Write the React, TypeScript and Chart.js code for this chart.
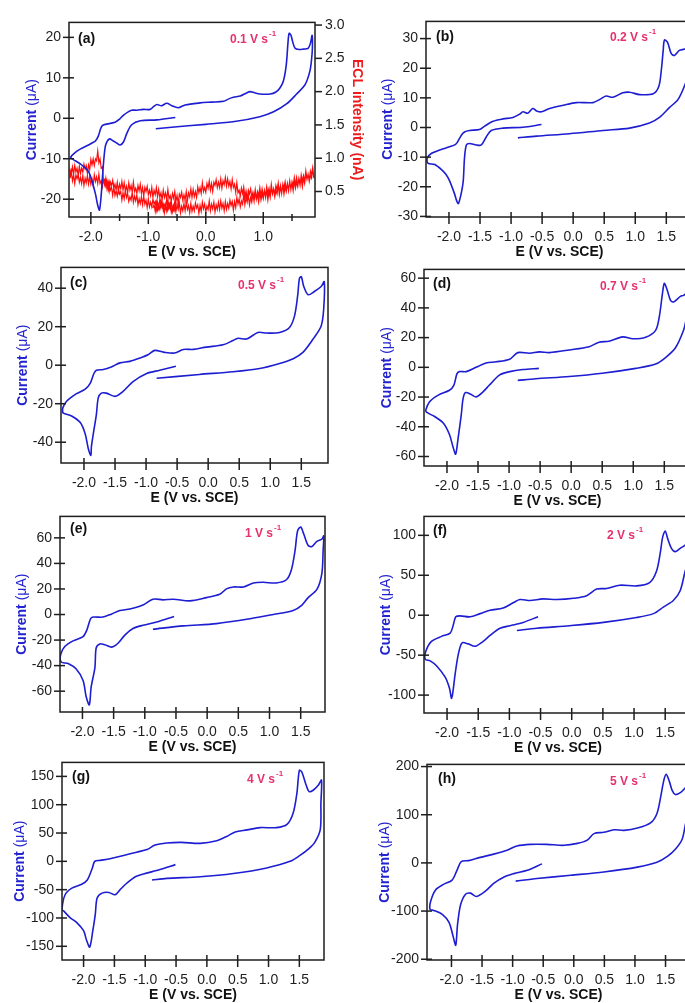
import React, { useEffect, useRef } from "react";
import { Chart, registerables } from "chart.js";

Chart.register(...registerables);

const FONT = "'Liberation Sans', Arial, Helvetica, sans-serif";
const INK = "#1e1e1e";
const CV_BLUE = "#1d1dd2";
const TITLE_BLUE = "#2323cf";
const ECL_RED = "#ff0d0d";
const RATE_PINK = "#e5326c";

type Pt = [number, number];

// Potential axis ticks (V vs. SCE)
const potentialTicks = [-2.0, -1.5, -1.0, -0.5, 0.0, 0.5, 1.0, 1.5];
// Current axis ticks (µA) for each scan rate
const currentTicks01 = [-20, -10, 0, 10, 20];
const currentTicks02 = [-30, -20, -10, 0, 10, 20, 30];
const currentTicks05 = [-40, -20, 0, 20, 40];
const currentTicks07 = [-60, -40, -20, 0, 20, 40, 60];
const currentTicks1 = [-60, -40, -20, 0, 20, 40, 60];
const currentTicks2 = [-100, -50, 0, 50, 100];
const currentTicks4 = [-150, -100, -50, 0, 50, 100, 150];
const currentTicks5 = [-200, -100, 0, 100, 200];
// ECL intensity axis ticks (nA)
const eclTicks = [0.5, 1.0, 1.5, 2.0, 2.5, 3.0];

// Cyclic voltammograms: [E (V vs. SCE), current (µA)], in scan order
const cv01: Pt[] = [
  [-0.53, 0.2], [-0.85, -0.4], [-1.14, -0.6], [-1.29, -1.6], [-1.37, -3.6], [-1.43, -5.8], [-1.49, -6.6], [-1.55, -6.1],
  [-1.61, -5.6], [-1.68, -5.1], [-1.74, -6.5], [-1.77, -9.5], [-1.8, -15], [-1.82, -19], [-1.85, -22.7], [-1.88, -21.5],
  [-1.92, -18.7], [-1.98, -15.5], [-2.04, -13.2], [-2.12, -12], [-2.19, -11.2], [-2.27, -10.5], [-2.33, -10],
  [-2.35, -9.6], [-2.27, -8.4], [-2.17, -7.5], [-2.07, -6.8], [-1.98, -6.1], [-1.92, -5.6], [-1.87, -4.4], [-1.83, -2.6],
  [-1.8, -1.8], [-1.75, -1.5], [-1.58, -1.0], [-1.5, -0.2], [-1.43, 0.8], [-1.35, 1.6], [-1.29, 2.0], [-1.2, 2.0],
  [-1.09, 2.2], [-0.97, 2.2], [-0.9, 3.0], [-0.85, 3.4], [-0.77, 3.1], [-0.68, 3.7], [-0.59, 3.1], [-0.48, 2.6],
  [-0.36, 3.3], [-0.1, 3.8], [0.1, 4.0], [0.31, 4.2], [0.4, 4.8], [0.48, 5.2], [0.6, 5.5], [0.7, 6.2], [0.77, 6.6],
  [0.85, 6.3], [0.94, 6.0], [1.12, 6.0], [1.22, 6.5], [1.29, 7.5], [1.35, 9.2], [1.4, 13.2], [1.43, 18.7], [1.45, 21.0],
  [1.48, 20.6], [1.51, 19.0], [1.55, 17.4], [1.62, 17.0], [1.7, 17.1], [1.78, 17.3], [1.82, 18.5], [1.85, 20.5],
  [1.855, 17.5], [1.84, 14.5], [1.81, 11.6], [1.73, 8.4], [1.58, 6.0], [1.41, 3.6], [1.18, 1.6], [0.94, 0.4],
  [0.5, -0.8], [0.0, -1.5], [-0.5, -2.1], [-0.87, -2.6],
];

const cv02: Pt[] = [
  [-0.51, 1.0], [-0.81, 0.1], [-1.13, -0.2], [-1.32, -1.0], [-1.4, -3.2], [-1.48, -5.9], [-1.56, -5.9], [-1.67, -5.4],
  [-1.72, -5.9], [-1.75, -10.3], [-1.77, -18], [-1.8, -22], [-1.83, -24.6], [-1.85, -25.7], [-1.88, -24.5], [-1.91, -22.4],
  [-1.99, -18], [-2.05, -15.8], [-2.12, -14.2], [-2.23, -12.5], [-2.34, -12.0],
  [-2.35, -10.3], [-2.28, -8.7], [-2.15, -7.6], [-1.99, -6.5], [-1.9, -5.8], [-1.86, -4.8], [-1.8, -2.6], [-1.75, -1.5],
  [-1.67, -1.0], [-1.51, -0.7], [-1.43, 0.4], [-1.29, 2.1], [-1.13, 2.9], [-0.97, 3.4], [-0.86, 4.5], [-0.81, 5.3],
  [-0.73, 4.8], [-0.65, 6.4], [-0.59, 5.6], [-0.51, 5.3], [-0.38, 6.4], [-0.16, 7.5], [0.05, 8.4], [0.32, 8.4],
  [0.43, 9.5], [0.53, 10.6], [0.64, 10.2], [0.8, 11.7], [0.91, 11.9], [1.07, 11.1], [1.29, 11.4], [1.38, 13.9],
  [1.42, 19.4], [1.45, 26.0], [1.47, 29.5], [1.52, 28.7], [1.58, 24.9], [1.63, 24.3], [1.71, 26.0], [1.8, 26.5],
  [1.86, 27.5], [1.88, 29],
  [1.88, 22], [1.85, 17.5], [1.8, 14.4], [1.69, 9.5], [1.55, 6.7], [1.39, 3.4], [1.23, 1.5], [0.91, -0.2], [0.48, -1.0],
  [-0.06, -2.1], [-0.59, -2.9], [-0.89, -3.5],
];

const cv05: Pt[] = [
  [-0.52, -0.5], [-0.78, -2.6], [-0.99, -4.3], [-1.21, -8.5], [-1.37, -13.6], [-1.5, -16.2], [-1.64, -14.5], [-1.72, -14.5],
  [-1.77, -17], [-1.8, -25.5], [-1.85, -35.7], [-1.88, -42.2], [-1.89, -46.8], [-1.93, -43.4], [-1.98, -35.7], [-2.06, -29.8],
  [-2.2, -26.4], [-2.31, -25.2], [-2.34, -24.7],
  [-2.34, -22.1], [-2.28, -18.7], [-2.12, -14.8], [-1.98, -12.4], [-1.9, -9.4], [-1.84, -4.3], [-1.8, -2.6], [-1.69, -2.2],
  [-1.56, -0.9], [-1.42, 1.2], [-1.26, 2.0], [-1.1, 3.7], [-0.97, 5.4], [-0.86, 7.7], [-0.72, 6.8], [-0.54, 6.3],
  [-0.4, 8.2], [-0.24, 8.2], [-0.03, 9.4], [0.24, 10.6], [0.4, 12.8], [0.48, 14.0], [0.62, 13.6], [0.8, 17.0],
  [0.94, 16.7], [1.15, 17.0], [1.31, 19.6], [1.39, 25.5], [1.44, 35.7], [1.47, 45.1], [1.5, 46.0], [1.54, 40.9],
  [1.61, 36.6], [1.71, 38.3], [1.82, 40.9], [1.87, 43.4],
  [1.86, 28.9], [1.82, 20.4], [1.69, 13.6], [1.53, 6.8], [1.37, 3.4], [1.15, 0.9], [0.83, -1.7], [0.4, -3.4],
  [-0.14, -4.8], [-0.83, -6.8],
];

const cv07: Pt[] = [
  [-0.52, -0.7], [-0.78, -1.5], [-0.99, -2.9], [-1.15, -5.1], [-1.32, -12.1], [-1.42, -16.5], [-1.53, -19.9], [-1.61, -18.3],
  [-1.7, -17.0], [-1.74, -20.9], [-1.77, -32], [-1.82, -47.4], [-1.86, -58.4], [-1.9, -54], [-1.96, -45.2], [-2.06, -37.5],
  [-2.2, -33.1], [-2.33, -30.2],
  [-2.34, -28.6], [-2.28, -23.1], [-2.14, -18.7], [-1.96, -15.4], [-1.89, -12.1], [-1.84, -4.4], [-1.8, -2.9], [-1.69, -2.9],
  [-1.53, 0], [-1.37, 2.9], [-1.21, 3.7], [-0.99, 5.5], [-0.86, 9.9], [-0.67, 9.5], [-0.51, 10.4], [-0.35, 9.9],
  [-0.03, 11.7], [0.29, 13.9], [0.45, 16.9], [0.61, 17.6], [0.83, 20.5], [0.99, 19.2], [1.2, 20.3], [1.36, 24.9],
  [1.42, 34.2], [1.47, 49.6], [1.5, 56.5], [1.54, 52.9], [1.6, 45.1], [1.65, 44.0], [1.76, 47.7], [1.81, 48.4], [1.87, 50],
  [1.88, 42], [1.85, 32], [1.81, 25], [1.68, 13.2], [1.52, 6.6], [1.36, 2.2], [1.04, -0.7], [0.5, -4.0], [-0.03, -6.2],
  [-0.57, -7.7], [-0.86, -8.8],
];

const cv1: Pt[] = [
  [-0.53, -1.5], [-0.81, -5.9], [-1.03, -8.4], [-1.19, -11.0], [-1.32, -16.1], [-1.43, -22.5], [-1.53, -25.5], [-1.64, -23.7],
  [-1.72, -23.0], [-1.78, -26.2], [-1.8, -41.5], [-1.86, -56.7], [-1.89, -70.7], [-1.94, -64.4], [-1.99, -51.7], [-2.1, -42.7],
  [-2.23, -38.4], [-2.34, -37.2],
  [-2.35, -31.3], [-2.28, -24.9], [-2.15, -20.6], [-1.99, -17.3], [-1.93, -12.2], [-1.87, -3.3], [-1.83, -2.0], [-1.67, -2.0],
  [-1.53, 0.5], [-1.4, 3.1], [-1.24, 4.3], [-1.03, 7.4], [-0.87, 12.0], [-0.71, 11.5], [-0.54, 12.0], [-0.28, 10.7],
  [-0.01, 13.2], [0.2, 15.8], [0.31, 20.1], [0.42, 21.6], [0.58, 21.6], [0.74, 24.7], [0.9, 25.2], [1.11, 24.7],
  [1.27, 27.2], [1.35, 34.9], [1.41, 50.2], [1.45, 65.4], [1.5, 68.5], [1.55, 62.9], [1.62, 54.0], [1.68, 53.2],
  [1.76, 57.3], [1.84, 59.1], [1.87, 61.6],
  [1.86, 50.2], [1.84, 32.3], [1.76, 19.6], [1.62, 13.2], [1.52, 7.4], [1.38, 3.1], [1.06, 0], [0.69, -3.3],
  [0.15, -7.1], [-0.38, -8.9], [-0.87, -11.5],
];

const cv2: Pt[] = [
  [-0.54, -2.0], [-0.78, -9.0], [-0.99, -13.1], [-1.15, -16.3], [-1.31, -25.3], [-1.42, -32.7], [-1.55, -38.8], [-1.66, -35.9],
  [-1.76, -34.7], [-1.82, -49.0], [-1.87, -73.5], [-1.91, -98.0], [-1.93, -104], [-1.96, -91.8], [-2.03, -77.6], [-2.17, -63.3],
  [-2.27, -57.1], [-2.35, -55.1],
  [-2.34, -44.9], [-2.25, -32.7], [-2.09, -26.5], [-1.95, -22.4], [-1.9, -12.2], [-1.86, -2.0], [-1.79, -0.8], [-1.63, -2.0],
  [-1.47, 2.0], [-1.31, 6.1], [-1.1, 9.0], [-0.94, 15.5], [-0.83, 19.6], [-0.67, 18.4], [-0.46, 20.4], [-0.24, 19.6],
  [0.03, 21.2], [0.24, 24.5], [0.4, 32.7], [0.56, 33.5], [0.77, 37.6], [1.04, 36.7], [1.25, 40.8], [1.36, 55.1],
  [1.42, 77.6], [1.46, 98.0], [1.5, 105.3], [1.54, 95.9], [1.6, 83.7], [1.66, 79.6], [1.74, 83.7], [1.82, 87.8], [1.87, 92],
  [1.88, 75], [1.85, 62], [1.82, 55.1], [1.74, 30.6], [1.63, 18.4], [1.47, 10.2], [1.31, 2.0], [1.04, -2.9], [0.51, -9.0],
  [-0.03, -13.1], [-0.56, -16.3], [-0.88, -19.2],
];

const cv4: Pt[] = [
  [-0.51, -5.8], [-0.76, -14.5], [-1.03, -22.5], [-1.16, -27.2], [-1.3, -38.7], [-1.41, -50.3], [-1.49, -59.0], [-1.59, -54.9],
  [-1.7, -56.1], [-1.78, -64.7], [-1.81, -93.6], [-1.85, -122.5], [-1.9, -151.4], [-1.95, -139.9], [-2.0, -122.5],
  [-2.11, -108.1], [-2.22, -99.4], [-2.32, -87.9], [-2.35, -85],
  [-2.3, -59.0], [-2.19, -47.4], [-2.03, -40.5], [-1.94, -32.9], [-1.86, -12.7], [-1.82, 0], [-1.73, 1.7], [-1.57, 4.6],
  [-1.35, 10.4], [-1.14, 16.2], [-0.97, 20.8], [-0.84, 28.9], [-0.65, 32.4], [-0.41, 33.5], [-0.11, 31.8], [0.16, 36.4],
  [0.32, 43.9], [0.46, 52.0], [0.65, 55.5], [0.86, 59.5], [1.13, 59.5], [1.3, 65.3], [1.4, 85.5], [1.46, 120.2],
  [1.5, 160.7], [1.54, 157.8], [1.61, 134.7], [1.66, 123.1], [1.73, 126.0], [1.81, 134.7], [1.86, 143.4],
  [1.85, 102.9], [1.84, 56.6], [1.75, 33.5], [1.65, 22.0], [1.51, 10.4], [1.35, 0], [0.97, -11.6], [0.43, -21.4],
  [-0.11, -27.2], [-0.65, -30.1], [-0.89, -32.9],
];

const cv5: Pt[] = [
  [-0.52, -2.0], [-0.76, -15.5], [-0.98, -22.3], [-1.14, -29.1], [-1.31, -42.6], [-1.44, -58.1], [-1.59, -69.6], [-1.69, -62.8],
  [-1.77, -64.9], [-1.85, -86.5], [-1.9, -127.0], [-1.93, -170.9], [-1.97, -154.1], [-2.04, -123.6], [-2.15, -106.8],
  [-2.29, -98.6], [-2.35, -96.6],
  [-2.34, -79.7], [-2.26, -56.1], [-2.13, -44.6], [-1.99, -35.8], [-1.91, -15.5], [-1.84, 2.7], [-1.72, 4.7], [-1.53, 11.5],
  [-1.31, 18.2], [-1.09, 26.4], [-0.93, 35.1], [-0.71, 38.5], [-0.44, 38.5], [-0.16, 36.5], [0.06, 40.5], [0.22, 47.3],
  [0.33, 60.8], [0.49, 63.5], [0.66, 68.9], [0.82, 67.6], [1.04, 72.3], [1.26, 83.8], [1.36, 102.7], [1.42, 136.5],
  [1.47, 170.3], [1.51, 183.8], [1.56, 170.3], [1.61, 150.0], [1.66, 141.9], [1.75, 146.6], [1.83, 156.8], [1.87, 163],
  [1.88, 120], [1.86, 95], [1.83, 82.4], [1.77, 48.6], [1.66, 28.4], [1.53, 13.5], [1.36, 1.4], [1.04, -8.8],
  [0.49, -18.9], [-0.05, -25.7], [-0.6, -32.4], [-0.95, -37.8],
];

// ECL intensity (nA) recorded at 0.1 V/s, sampled every 20 mV along each sweep
const eclSweep1Start = -0.52;
const eclSweep1Step = -0.02;
const eclSweep1 = [
  0.33, 0.22, 0.29, 0.2, 0.35, 0.25, 0.32, 0.23, 0.38, 0.25,
  0.3, 0.22, 0.35, 0.28, 0.38, 0.25, 0.34, 0.22, 0.35, 0.31,
  0.39, 0.27, 0.34, 0.27, 0.39, 0.26, 0.37, 0.31, 0.43, 0.3,
  0.42, 0.32, 0.39, 0.3, 0.45, 0.36, 0.43, 0.34, 0.49, 0.37,
  0.42, 0.35, 0.47, 0.41, 0.52, 0.39, 0.48, 0.37, 0.5, 0.46,
  0.54, 0.43, 0.51, 0.44, 0.57, 0.44, 0.56, 0.52, 0.64, 0.53,
  0.66, 0.58, 0.68, 0.65, 0.87, 0.85, 0.99, 0.93, 1.11, 0.96,
  0.99, 0.89, 0.99, 0.9, 0.98, 0.83, 0.9, 0.77, 0.89, 0.84,
  0.91, 0.79, 0.85, 0.77, 0.88, 0.74, 0.85, 0.79, 0.89, 0.76,
  0.87, 0.76, 0.82,
];
const eclSweep2Start = -2.36;
const eclSweep2Step = 0.02;
const eclSweep2 = [
  0.7, 0.8, 0.66, 0.75, 0.62, 0.75, 0.69, 0.77, 0.64, 0.71,
  0.62, 0.74, 0.59, 0.7, 0.63, 0.74, 0.61, 0.72, 0.61, 0.69,
  0.59, 0.75, 0.65, 0.72, 0.62, 0.76, 0.62, 0.66, 0.57, 0.68,
  0.6, 0.7, 0.55, 0.64, 0.51, 0.64, 0.59, 0.67, 0.54, 0.61,
  0.52, 0.64, 0.5, 0.61, 0.54, 0.65, 0.52, 0.63, 0.51, 0.58,
  0.48, 0.63, 0.52, 0.59, 0.49, 0.64, 0.5, 0.55, 0.47, 0.59,
  0.51, 0.61, 0.47, 0.56, 0.43, 0.56, 0.5, 0.58, 0.45, 0.52,
  0.44, 0.56, 0.41, 0.52, 0.45, 0.56, 0.42, 0.53, 0.41, 0.48,
  0.37, 0.52, 0.41, 0.48, 0.38, 0.53, 0.39, 0.44, 0.35, 0.47,
  0.4, 0.5, 0.35, 0.44, 0.32, 0.46, 0.41, 0.49, 0.37, 0.45,
  0.37, 0.5, 0.36, 0.48, 0.42, 0.54, 0.41, 0.53, 0.42, 0.5,
  0.41, 0.57, 0.48, 0.56, 0.47, 0.63, 0.5, 0.56, 0.49, 0.62,
  0.55, 0.66, 0.52, 0.62, 0.5, 0.64, 0.59, 0.68, 0.56, 0.64,
  0.56, 0.69, 0.55, 0.66, 0.6, 0.71, 0.58, 0.69, 0.58, 0.65,
  0.54, 0.68, 0.56, 0.61, 0.49, 0.63, 0.48, 0.52, 0.43, 0.55,
  0.47, 0.57, 0.42, 0.51, 0.39, 0.52, 0.46, 0.54, 0.42, 0.49,
  0.41, 0.53, 0.39, 0.5, 0.44, 0.56, 0.43, 0.54, 0.43, 0.51,
  0.41, 0.57, 0.47, 0.55, 0.45, 0.61, 0.48, 0.54, 0.46, 0.59,
  0.52, 0.63, 0.49, 0.59, 0.47, 0.61, 0.56, 0.65, 0.53, 0.61,
  0.53, 0.66, 0.53, 0.65, 0.59, 0.71, 0.59, 0.71, 0.6, 0.68,
  0.59, 0.75, 0.66, 0.74, 0.65, 0.81, 0.69, 0.75, 0.68, 0.81,
  0.75, 0.86, 0.73,
];
const eclSweep3Start = 1.88;
const eclSweep3Step = -0.02;
const eclSweep3 = [
  0.7, 0.84, 0.7, 0.74, 0.65, 0.76, 0.68, 0.77, 0.62, 0.7,
  0.57, 0.69, 0.63, 0.7, 0.57, 0.64, 0.55, 0.66, 0.51, 0.62,
  0.55, 0.65, 0.51, 0.62, 0.5, 0.57, 0.46, 0.6, 0.49, 0.56,
  0.45, 0.6, 0.46, 0.51, 0.42, 0.54, 0.46, 0.56, 0.41, 0.5,
  0.37, 0.5, 0.44, 0.52, 0.39, 0.46, 0.37, 0.49, 0.34, 0.45,
  0.38, 0.49, 0.35, 0.46, 0.34, 0.41, 0.3, 0.45, 0.34, 0.41,
  0.3, 0.45, 0.31, 0.36, 0.27, 0.39, 0.31, 0.41, 0.26, 0.35,
  0.22, 0.35, 0.29, 0.37, 0.25, 0.32, 0.23, 0.35, 0.21, 0.32,
  0.25, 0.36, 0.23, 0.34, 0.23, 0.3, 0.19, 0.34, 0.24, 0.31,
  0.21, 0.36, 0.23, 0.28, 0.19, 0.31, 0.24, 0.34, 0.2, 0.29,
  0.17, 0.3, 0.25, 0.33, 0.21, 0.28, 0.2, 0.32, 0.18, 0.29,
  0.23, 0.34, 0.21, 0.32, 0.21, 0.28, 0.18, 0.33, 0.23, 0.3,
  0.2, 0.35, 0.22, 0.27, 0.19, 0.32, 0.25, 0.35, 0.21, 0.3,
  0.18, 0.31, 0.26, 0.35, 0.23, 0.3, 0.22, 0.34, 0.2, 0.31,
  0.25,
];

const sweepPoints = (start: number, step: number, values: number[]) =>
  values.map((v, i) => ({ x: +(start + i * step).toFixed(3), y: v }));

const eclPoints = [
  ...sweepPoints(eclSweep1Start, eclSweep1Step, eclSweep1),
  ...sweepPoints(eclSweep2Start, eclSweep2Step, eclSweep2),
  ...sweepPoints(eclSweep3Start, eclSweep3Step, eclSweep3),
];

interface PanelSpec {
  key: string;
  letter: string;
  rate: string;
  rect: [number, number, number, number];
  x: [number, number];
  y: [number, number];
  yTicks: number[];
  cv: Pt[];
  ecl?: boolean;
  letterAt: [number, number];
  rateAt: [number, number];
  yTitleDx: number;
}

const PANELS: PanelSpec[] = [
  { key: "a", letter: "(a)", rate: "0.1", rect: [69, 16, 315, 217], x: [-2.38, 1.9], y: [-24.4, 23.7], yTicks: currentTicks01, cv: cv01, ecl: true, letterAt: [9, 17], rateAt: [161, 17], yTitleDx: -37 },
  { key: "b", letter: "(b)", rate: "0.2", rect: [426, 17, 693, 217], x: [-2.37, 1.93], y: [-30.2, 35.8], yTicks: currentTicks02, cv: cv02, letterAt: [10, 16], rateAt: [184, 16], yTitleDx: -38 },
  { key: "c", letter: "(c)", rate: "0.5", rect: [61, 263, 328, 463], x: [-2.37, 1.93], y: [-50.8, 50.8], yTicks: currentTicks05, cv: cv05, letterAt: [9, 16], rateAt: [177, 18], yTitleDx: -38 },
  { key: "d", letter: "(d)", rate: "0.7", rect: [424, 265, 691, 466], x: [-2.37, 1.93], y: [-66.4, 65.9], yTicks: currentTicks07, cv: cv07, letterAt: [9, 15], rateAt: [176, 17], yTitleDx: -37 },
  { key: "e", letter: "(e)", rate: "1", rect: [60, 512, 325, 712], x: [-2.36, 1.89], y: [-76.3, 76.8], yTicks: currentTicks1, cv: cv1, letterAt: [10, 13], rateAt: [185, 17], yTitleDx: -38 },
  { key: "f", letter: "(f)", rate: "2", rect: [424, 512, 692, 713], x: [-2.37, 1.93], y: [-122.4, 123.7], yTicks: currentTicks2, cv: cv2, letterAt: [9, 15], rateAt: [183, 19], yTitleDx: -38 },
  { key: "g", letter: "(g)", rate: "4", rect: [62, 758, 324, 960], x: [-2.35, 1.9], y: [-174.2, 174.7], yTicks: currentTicks4, cv: cv4, letterAt: [10, 15], rateAt: [185, 17], yTitleDx: -42 },
  { key: "h", letter: "(h)", rate: "5", rect: [427, 760, 690, 960], x: [-2.4, 1.9], y: [-201.6, 204.5], yTicks: currentTicks5, cv: cv5, letterAt: [11, 15], rateAt: [183, 17], yTitleDx: -42 },
];

const Y_AXIS_W = 70;
const X_AXIS_H = 46;
const TOP_PAD = 12;

// Frame, crossing tick marks and the panel texts
const panelDecor = {
  id: "panelDecor",
  afterDraw(chart: any, _args: any, opts: any) {
    const { ctx, chartArea: ca } = chart;
    const line = (x1: number, y1: number, x2: number, y2: number) => {
      ctx.beginPath();
      ctx.moveTo(x1, y1);
      ctx.lineTo(x2, y2);
      ctx.stroke();
    };
    ctx.save();
    ctx.strokeStyle = INK;
    ctx.lineWidth = 1.5;
    ctx.strokeRect(ca.left, ca.top, ca.right - ca.left, ca.bottom - ca.top);

    const xs = chart.scales.x;
    xs.ticks.forEach((t: any) => {
      const px = xs.getPixelForValue(t.value);
      const major = t.label !== "";
      line(px, ca.bottom - (major ? 5 : 3), px, ca.bottom + (major ? 7 : 4));
    });
    const ys = chart.scales.y;
    ys.ticks.forEach((t: any) => {
      const py = ys.getPixelForValue(t.value);
      line(ca.left - 6, py, ca.left + 5, py);
    });
    const y2 = chart.scales.y2;
    if (y2) {
      y2.ticks.forEach((t: any) => {
        const py = y2.getPixelForValue(t.value);
        line(ca.right, py, ca.right + 7, py);
      });
    }

    ctx.textBaseline = "middle";
    ctx.textAlign = "left";
    ctx.fillStyle = "#111";
    ctx.font = `bold 14px ${FONT}`;
    ctx.fillText(opts.letter, ca.left + opts.letterAt[0], ca.top + opts.letterAt[1]);

    ctx.fillStyle = RATE_PINK;
    ctx.font = `bold 12px ${FONT}`;
    const rateText = `${opts.rate} V s`;
    const rx = ca.left + opts.rateAt[0];
    const ry = ca.top + opts.rateAt[1];
    ctx.fillText(rateText, rx, ry);
    const rw = ctx.measureText(rateText).width;
    ctx.font = `bold 8px ${FONT}`;
    ctx.fillText("-1", rx + rw + 1, ry - 6);

    ctx.fillStyle = "#111";
    ctx.font = `bold 14px ${FONT}`;
    ctx.textAlign = "center";
    ctx.fillText("E (V vs. SCE)", (ca.left + ca.right) / 2, ca.bottom + 35);

    // Left axis title, rotated
    ctx.save();
    ctx.translate(ca.left + opts.yTitleDx, (ca.top + ca.bottom) / 2);
    ctx.rotate(-Math.PI / 2);
    ctx.fillStyle = TITLE_BLUE;
    ctx.textAlign = "left";
    ctx.font = `bold 14px ${FONT}`;
    const part1 = "Current ";
    const w1 = ctx.measureText(part1).width;
    ctx.font = `14px ${FONT}`;
    const part2 = "(\u03bcA)";
    const w2 = ctx.measureText(part2).width;
    const start = -(w1 + w2) / 2;
    ctx.font = `bold 14px ${FONT}`;
    ctx.fillText(part1, start, 0);
    ctx.font = `14px ${FONT}`;
    ctx.fillText(part2, start + w1, 0);
    ctx.restore();

    if (opts.rightTitle) {
      ctx.save();
      ctx.translate(ca.right + 42, (ca.top + ca.bottom) / 2);
      ctx.rotate(Math.PI / 2);
      ctx.fillStyle = "#ee1c1c";
      ctx.textAlign = "center";
      ctx.font = `bold 14px ${FONT}`;
      ctx.fillText(opts.rightTitle, 0, 0);
      ctx.restore();
    }
    ctx.restore();
  },
};

const fixedTicks = (values: number[]) => (s: any) => {
  s.ticks = values.map((value) => ({ value }));
};

function Panel({ spec }: { spec: PanelSpec }) {
  const ref = useRef<HTMLCanvasElement>(null);
  const [l, t, r, b] = spec.rect;
  const rightW = spec.ecl ? 55 : 10;
  const width = Y_AXIS_W + (r - l) + rightW;
  const height = TOP_PAD + (b - t) + X_AXIS_H;

  useEffect(() => {
    const tickFont = { family: FONT, size: 14 };
    const isInt = (v: number) => Math.abs(v - Math.round(v)) < 1e-6;
    const datasets: any[] = [
      {
        label: "Current",
        data: spec.cv.map(([x, y]) => ({ x, y })),
        showLine: true,
        borderColor: CV_BLUE,
        borderWidth: 1.6,
        pointRadius: 0,
        tension: 0.3,
        borderJoinStyle: "round",
        xAxisID: "x",
        yAxisID: "y",
      },
    ];
    const scales: any = {
      x: {
        type: "linear",
        position: "bottom",
        min: spec.x[0],
        max: spec.x[1],
        afterFit: (s: any) => {
          s.height = X_AXIS_H;
        },
        afterBuildTicks: fixedTicks(potentialTicks),
        grid: { display: false, drawTicks: false },
        border: { display: false },
        ticks: {
          autoSkip: false,
          maxRotation: 0,
          padding: 12,
          color: INK,
          font: tickFont,
          callback: (v: any) => (spec.ecl ? (isInt(v) ? Number(v).toFixed(1) : "") : Number(v).toFixed(1)),
        },
      },
      y: {
        type: "linear",
        position: "left",
        min: spec.y[0],
        max: spec.y[1],
        afterFit: (s: any) => {
          s.width = Y_AXIS_W;
        },
        afterBuildTicks: fixedTicks(spec.yTicks),
        grid: { display: false, drawTicks: false },
        border: { display: false },
        ticks: {
          autoSkip: false,
          padding: 8,
          color: INK,
          font: tickFont,
          callback: (v: any) => `${Math.round(Number(v))}`,
        },
      },
    };
    if (spec.ecl) {
      datasets.push({
        label: "ECL",
        data: eclPoints,
        showLine: true,
        borderColor: ECL_RED,
        borderWidth: 1.2,
        pointRadius: 0,
        tension: 0,
        xAxisID: "x",
        yAxisID: "y2",
      });
      scales.y2 = {
        type: "linear",
        position: "right",
        min: 0.117,
        max: 3.04,
        afterFit: (s: any) => {
          s.width = 55;
        },
        afterBuildTicks: fixedTicks(eclTicks),
        grid: { display: false, drawTicks: false },
        border: { display: false },
        ticks: {
          autoSkip: false,
          padding: 10,
          color: INK,
          font: tickFont,
          callback: (v: any) => Number(v).toFixed(1),
        },
      };
    }

    const chart = new Chart(ref.current as HTMLCanvasElement, {
      type: "scatter",
      data: { datasets },
      options: {
        animation: false,
        responsive: false,
        devicePixelRatio: 1,
        events: [],
        layout: { padding: { top: TOP_PAD, right: spec.ecl ? 0 : rightW, left: 0, bottom: 0 } },
        scales,
        plugins: {
          legend: { display: false },
          tooltip: { enabled: false },
          panelDecor: {
            letter: spec.letter,
            rate: spec.rate,
            letterAt: spec.letterAt,
            rateAt: spec.rateAt,
            yTitleDx: spec.yTitleDx,
            rightTitle: spec.ecl ? "ECL intensity (nA)" : "",
          },
        } as any,
      },
      plugins: [panelDecor],
    } as any);
    return () => chart.destroy();
  }, [spec]);

  return (
    <canvas
      ref={ref}
      width={width}
      height={height}
      style={{ position: "absolute", left: l - Y_AXIS_W, top: t - TOP_PAD, width, height }}
    />
  );
}

export default function App() {
  return (
    <div
      style={{
        position: "absolute",
        left: 0,
        top: 0,
        width: 685,
        height: 1003,
        overflow: "hidden",
        background: "#ffffff",
      }}
    >
      {PANELS.map((p) => (
        <Panel key={p.key} spec={p} />
      ))}
    </div>
  );
}
